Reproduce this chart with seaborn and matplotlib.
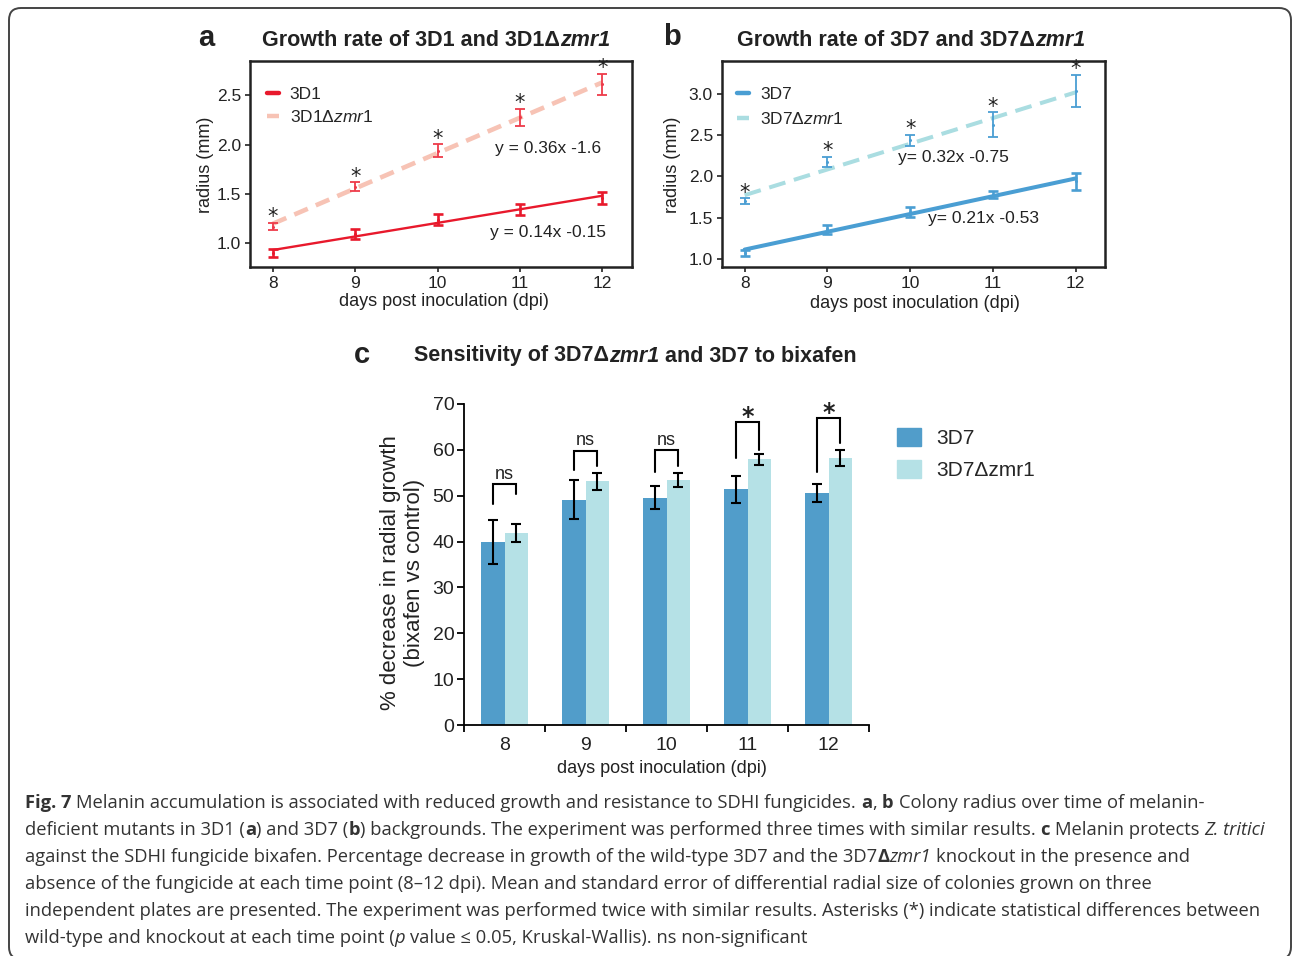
import pandas as pd
import seaborn as sns
import matplotlib.pyplot as plt
from matplotlib.lines import Line2D
from matplotlib.patches import Patch, FancyBboxPatch
from matplotlib.text import Annotation

W, H = 1292, 956

# panel a / b: colony radius (mm) by day
days = [8, 9, 10, 11, 12]
r_3d1 = [0.90, 1.09, 1.24, 1.345, 1.46]
e_3d1 = [0.04, 0.05, 0.055, 0.055, 0.06]
r_3d1_zmr1 = [1.17, 1.575, 1.94, 2.275, 2.61]
e_3d1_zmr1 = [0.04, 0.045, 0.065, 0.09, 0.11]
r_3d7 = [1.07, 1.355, 1.57, 1.78, 1.94]
e_3d7 = [0.04, 0.055, 0.06, 0.045, 0.10]
r_3d7_zmr1 = [1.70, 2.18, 2.44, 2.63, 3.04]
e_3d7_zmr1 = [0.035, 0.06, 0.065, 0.15, 0.20]
eq_a = ['y = 0.36x -1.6', 'y = 0.14x -0.15']
eq_b = ['y= 0.32x -0.75', 'y= 0.21x -0.53']

# panel c: % decrease in radial growth
dpi_c = ['8', '9', '10', '11', '12']
strains = ['3D7', '3D7Δzmr1']
dec_3d7 = [40.0, 49.1, 49.6, 51.4, 50.5]
se_3d7 = [4.8, 4.25, 2.45, 2.9, 1.95]
dec_zmr1 = [41.8, 53.1, 53.4, 57.9, 58.3]
se_zmr1 = [1.95, 1.9, 1.5, 1.15, 1.75]
sig = ['ns', 'ns', 'ns', '*', '*']
bracket_top = [52.5, 59.8, 59.9, 66.0, 66.9]
bracket_left = [48.3, 55.6, 55.1, 58.2, 55.2]
bracket_right = [50.4, 56.5, 56.5, 60.0, 61.4]

RED = '#e8192c'
SALMON = '#f7c3b5'
BLUE = '#4a9ed3'
LBLUE = '#aadde1'
BAR_DARK = '#519dca'
BAR_LIGHT = '#b5e1e6'
INK = '#222222'
STAR_FONT = ['DejaVu Sans']

sns.set_theme(style='white')
plt.rcParams['font.family'] = ['Liberation Sans', 'DejaVu Sans']
plt.rcParams['mathtext.fontset'] = 'custom'
plt.rcParams['mathtext.rm'] = 'Liberation Sans'
plt.rcParams['mathtext.it'] = 'Liberation Sans:italic'

fig = plt.figure(figsize=(W / 100, H / 100), dpi=100)


def px_axes(l, t, r, b):
    return fig.add_axes([l / W, 1 - b / H, (r - l) / W, (b - t) / H])


def rich(x, y, parts, size, family, color=INK, va='center'):
    # chain text pieces of different weight/style on one baseline (pixel coords)
    prev = None
    for txt, weight, style in parts:
        gap = 0.27 * size if txt.startswith(' ') else 0.0
        t = txt.strip(' ')
        kw = dict(fontsize=size, fontweight=weight, fontstyle=style,
                  family=family, color=color)
        if prev is None:
            prev = fig.text(x / W, 1 - y / H, t, ha='left', va=va, **kw)
        else:
            a = Annotation(t, xy=(1, 0), xycoords=prev, xytext=(gap, 0),
                           textcoords='offset points', ha='left', va='bottom', **kw)
            fig.add_artist(a)
            prev = a
    return prev


def growth_panel(ax, s1, e1, s2, e2, c1, c2, cerr2, lw1, lw2, dash2):
    sns.regplot(x=days, y=s2, ax=ax, ci=None, scatter=False, truncate=True,
                line_kws=dict(color=c2, lw=lw2, dashes=dash2))
    sns.regplot(x=days, y=s1, ax=ax, ci=None, scatter=False, truncate=True,
                line_kws=dict(color=c1, lw=lw1))
    ax.errorbar(days, s2, yerr=e2, fmt='o', ms=1.2, color=cerr2, ecolor=cerr2,
                elinewidth=1.3, capsize=3.5, capthick=1.3, zorder=4)
    ax.errorbar(days, s1, yerr=e1, fmt='o', ms=1.2, color=c1, ecolor=c1,
                elinewidth=1.9, capsize=3.5, capthick=1.9, zorder=4)
    for x, y, e in zip(days, s2, e2):
        ax.annotate('*', (x, y + e), xytext=(0, 4), textcoords='offset points',
                    ha='center', va='center', fontsize=15, family=STAR_FONT,
                    color=INK)
    for sp in ax.spines.values():
        sp.set_color(INK)
        sp.set_linewidth(1.8)
    ax.set_xticks(days)
    ax.tick_params(axis='both', labelsize=12.5, length=3.5, width=1.2,
                   color=INK, labelcolor=INK, pad=3, bottom=True, left=True)
    ax.set_xlabel('days post inoculation (dpi)', fontsize=13, color=INK)
    ax.set_ylabel('radius (mm)', fontsize=13, color=INK)


# ---- panel a
ax_a = px_axes(250, 61, 632, 267)
growth_panel(ax_a, r_3d1, e_3d1, r_3d1_zmr1, e_3d1_zmr1, RED, SALMON, '#ee3b4a',
             1.7, 3.3, (3.2, 1.9))
ax_a.set_xlim(7.723, 12.36)
ax_a.set_ylim(0.76, 2.847)
ax_a.set_yticks([1.0, 1.5, 2.0, 2.5])
ax_a.text(10.70, 1.964, eq_a[0], fontsize=12.5, color=INK, va='center')
ax_a.text(10.64, 1.114, eq_a[1], fontsize=12.5, color=INK, va='center')
ax_a.legend(handles=[Line2D([], [], color=RED, lw=3.2),
                     Line2D([], [], color=SALMON, lw=3.2, dashes=(3, 1))],
            labels=['3D1', r'3D1Δ$\mathit{zmr1}$'], loc='upper left',
            bbox_to_anchor=(0.045, 0.875), frameon=False, fontsize=12.5,
            handlelength=0.7, handletextpad=0.6, labelspacing=0.4,
            borderpad=0, borderaxespad=0)
ax_a.xaxis.set_label_coords(0.508, -0.128)
ax_a.yaxis.set_label_coords(-0.094, 0.494)

# ---- panel b
ax_b = px_axes(722, 61, 1105, 267)
growth_panel(ax_b, r_3d7, e_3d7, r_3d7_zmr1, e_3d7_zmr1, BLUE, LBLUE, BLUE,
             2.9, 2.9, (4.2, 2.2))
ax_b.set_xlim(7.727, 12.354)
ax_b.set_ylim(0.898, 3.405)
ax_b.set_yticks([1.0, 1.5, 2.0, 2.5, 3.0])
ax_b.text(9.856, 2.232, eq_b[0], fontsize=12.5, color=INK, va='center')
ax_b.text(10.21, 1.49, eq_b[1], fontsize=12.5, color=INK, va='center')
ax_b.legend(handles=[Line2D([], [], color=BLUE, lw=3.2),
                     Line2D([], [], color=LBLUE, lw=3.2, dashes=(3, 1))],
            labels=['3D7', r'3D7Δ$\mathit{zmr1}$'], loc='upper left',
            bbox_to_anchor=(0.04, 0.875), frameon=False, fontsize=12.5,
            handlelength=0.7, handletextpad=0.6, labelspacing=0.5,
            borderpad=0, borderaxespad=0)
ax_b.xaxis.set_label_coords(0.504, -0.138)
ax_b.yaxis.set_label_coords(-0.106, 0.494)

# ---- panel c
ax_c = px_axes(464, 404, 869, 725)
df = pd.DataFrame({'dpi': dpi_c * 2,
                   'strain': [strains[0]] * 5 + [strains[1]] * 5,
                   'value': dec_3d7 + dec_zmr1})
sns.barplot(data=df, x='dpi', y='value', hue='strain', order=dpi_c,
            hue_order=strains, palette=[BAR_DARK, BAR_LIGHT], saturation=1,
            width=0.57, errorbar=None, linewidth=0, legend=False, ax=ax_c)
bars = ax_c.patches
xs_dark = [p.get_x() + p.get_width() / 2 for p in bars[:5]]
xs_light = [p.get_x() + p.get_width() / 2 for p in bars[5:10]]
ax_c.errorbar(xs_dark, dec_3d7, yerr=se_3d7, fmt='none', ecolor='black',
              elinewidth=1.5, capsize=3.5, capthick=1.5, zorder=4)
ax_c.errorbar(xs_light, dec_zmr1, yerr=se_zmr1, fmt='none', ecolor='black',
              elinewidth=1.5, capsize=3.5, capthick=1.5, zorder=4)
for i in range(5):
    xl, xr = xs_dark[i], xs_light[i]
    ax_c.plot([xl, xl, xr, xr],
              [bracket_left[i], bracket_top[i], bracket_top[i], bracket_right[i]],
              color='black', lw=1.5, solid_joinstyle='miter')
    if sig[i] == 'ns':
        ax_c.annotate('ns', ((xl + xr) / 2, bracket_top[i]), xytext=(0, 1.2),
                      textcoords='offset points', ha='center', va='bottom',
                      fontsize=13, color=INK)
    else:
        ax_c.annotate('*', ((xl + xr) / 2, bracket_top[i]), xytext=(0, 4),
                      textcoords='offset points', ha='center', va='center',
                      fontsize=17, fontweight='bold', family=STAR_FONT, color=INK)
ax_c.set_xlim(-0.5, 4.5)
ax_c.set_ylim(0, 70)
ax_c.set_yticks(range(0, 71, 10))
ax_c.set_xticks(range(5))
ax_c.set_xticklabels(dpi_c)
ax_c.set_xticks([i - 0.5 for i in range(6)], minor=True)
ax_c.tick_params(axis='x', which='major', length=0, labelsize=14, pad=9,
                 labelcolor=INK)
ax_c.tick_params(axis='x', which='minor', length=5, width=1.3, color='black',
                 bottom=True)
ax_c.tick_params(axis='y', length=5, width=1.3, color='black', labelsize=14,
                 pad=2, labelcolor=INK, left=True)
for side in ['top', 'right']:
    ax_c.spines[side].set_visible(False)
for side in ['left', 'bottom']:
    ax_c.spines[side].set_color('black')
    ax_c.spines[side].set_linewidth(1.3)
ax_c.set_xlabel('days post inoculation (dpi)', fontsize=13, color=INK)
ax_c.set_ylabel('% decrease in radial growth\n(bixafen vs control)',
                fontsize=16, color=INK, linespacing=1.15)
ax_c.xaxis.set_label_coords(0.489, -0.109)
ax_c.yaxis.set_label_coords(-0.097, 0.474)
fig.legend(handles=[Patch(color=BAR_DARK), Patch(color=BAR_LIGHT)],
           labels=strains, loc='upper left', bbox_to_anchor=(897 / W, 1 - 428 / H),
           frameon=False, fontsize=15, handlelength=1.15, handleheight=0.95,
           handletextpad=0.72, labelspacing=0.55, borderpad=0, borderaxespad=0)

# ---- panel titles
sans = ['Liberation Sans', 'DejaVu Sans']
fig.text(198 / W, 1 - 38 / H, 'a', fontsize=21, fontweight='bold', family=sans,
         color=INK, va='center')
rich(262, 40, [('Growth rate of 3D1 and 3D1Δ', 'bold', 'normal'),
               ('zmr1', 'bold', 'italic')], 15.5, sans)
fig.text(663 / W, 1 - 37 / H, 'b', fontsize=21, fontweight='bold', family=sans,
         color=INK, va='center')
rich(737, 40, [('Growth rate of 3D7 and 3D7Δ', 'bold', 'normal'),
               ('zmr1', 'bold', 'italic')], 15.5, sans)
fig.text(354 / W, 1 - 355 / H, 'c', fontsize=21, fontweight='bold', family=sans,
         color=INK, va='center')
rich(414, 356, [('Sensitivity of 3D7Δ', 'bold', 'normal'),
                ('zmr1', 'bold', 'italic'),
                (' and 3D7 to bixafen', 'bold', 'normal')], 15.5, sans)

# ---- caption
cap_font = ['Open Sans', 'DejaVu Sans']
N, B, I = 'normal', 'bold', 'italic'
caption = [
    [('Fig. 7', B, N),
     (' Melanin accumulation is associated with reduced growth and resistance to SDHI fungicides.', N, N),
     (' a', B, N), (',', N, N), (' b', B, N),
     (' Colony radius over time of melanin-', N, N)],
    [('deficient mutants in 3D1 (', N, N), ('a', B, N), (') and 3D7 (', N, N),
     ('b', B, N),
     (') backgrounds. The experiment was performed three times with similar results.', N, N),
     (' c', B, N), (' Melanin protects', N, N), (' Z. tritici', N, I)],
    [('against the SDHI fungicide bixafen. Percentage decrease in growth of the wild-type 3D7 and the 3D7', N, N),
     ('Δ', B, N), ('zmr1', N, I), (' knockout in the presence and', N, N)],
    [('absence of the fungicide at each time point (8–12 dpi). Mean and standard error of differential radial size of colonies grown on three', N, N)],
    [('independent plates are presented. The experiment was performed twice with similar results. Asterisks (*) indicate statistical differences between', N, N)],
    [('wild-type and knockout at each time point (', N, N), ('p', N, I),
     (' value ≤ 0.05, Kruskal-Wallis). ns non-significant', N, N)],
]
for k, line in enumerate(caption):
    rich(25, 803 + 27 * k, line, 13.2, cap_font, color='#333333')

border = FancyBboxPatch((9, -3), 1282, 951, boxstyle='round,pad=0,rounding_size=12',
                        transform=None, fill=False, edgecolor='#444444', lw=1.4)
fig.add_artist(border)

fig.savefig('out.png', dpi=100)
